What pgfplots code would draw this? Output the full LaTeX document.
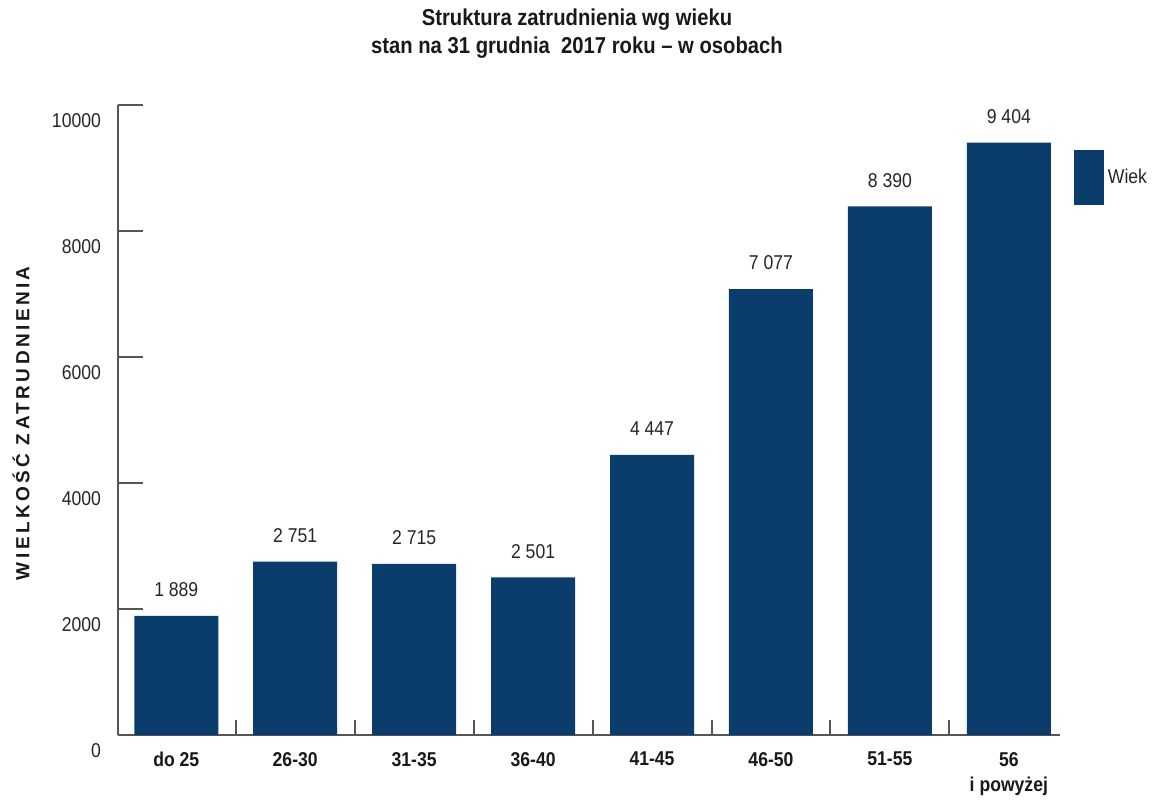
\documentclass[border=0pt]{standalone}
\usepackage{pgfplots}
\pgfplotsset{compat=1.18}
\usepackage{fontspec}
\setmainfont{Liberation Sans}[FakeStretch=0.88]
\newfontfamily\ylabfont{Liberation Sans}[LetterSpace=18]
\definecolor{barblue}{HTML}{0A3D6B}
\definecolor{axisgray}{HTML}{555555}
\begin{document}
\begin{tikzpicture}
\path[use as bounding box] (-59pt,-32.5pt) rectangle (517.5pt,367.5pt);
\begin{axis}[
  scale only axis, width=471pt, height=315pt,
  ybar, bar width=0.706,
  xmin=-0.49, xmax=7.43, ymin=0, ymax=10000,
  axis lines*=left,
  axis line style={axisgray, line width=1pt},
  tick align=inside,
  major tick length=12.5pt, minor tick length=7.5pt,
  every tick/.style={axisgray, line width=1pt},
  ytick={0,2000,...,10000},
  scaled y ticks=false,
  /pgf/number format/1000 sep={},
  /pgf/number format/assume math mode=true,
  yticklabel style={font=\fontsize{10}{12}\selectfont, text=black!85, yshift=-8pt, xshift=-5pt},
  xtick={0,...,7},
  xticklabels={do 25,26-30,31-35,36-40,41-45,46-50,51-55,56\\i powyżej},
  xticklabel style={font=\bfseries\fontsize{10}{12.5}\selectfont, align=center, text=black!90, yshift=-5pt},
  major x tick style={draw=none},
  minor xtick={0.5,1.5,...,6.5},
  every axis y label/.style={at={(rel axis cs:0,0.495)}, xshift=-48.5pt, rotate=90, anchor=center,
    font=\ylabfont\bfseries\fontsize{9.5}{12}\selectfont, text=black!90},
  ylabel={WIELKOŚĆ ZATRUDNIENIA},
  title={Struktura zatrudnienia wg wieku\\stan na 31 grudnia\ \ 2017 roku – w osobach},
  title style={font=\bfseries\fontsize{11.5}{14}\selectfont, align=center, yshift=14pt, xshift=-6pt, text=black!90},
  point meta=explicit symbolic,
  nodes near coords,
  every node near coord/.append style={font=\fontsize{10}{12}\selectfont, text=black!85, yshift=6pt},
  legend style={at={(rel axis cs:1.008,0.935)}, anchor=north west, draw=none, fill=none,
    font=\fontsize{10}{12}\selectfont, text=black!85},
  legend image code/.code={\fill[barblue] (0pt,-13.75pt) rectangle (15pt,13.75pt);},
]
\addplot[fill=barblue, draw=none] coordinates {
  (0,1889) [1 889]
  (1,2751) [2 751]
  (2,2715) [2 715]
  (3,2501) [2 501]
  (4,4447) [4 447]
  (5,7077) [7 077]
  (6,8390) [8 390]
  (7,9404) [9 404]
};
\addlegendentry{Wiek}
\end{axis}
\end{tikzpicture}
\end{document}
